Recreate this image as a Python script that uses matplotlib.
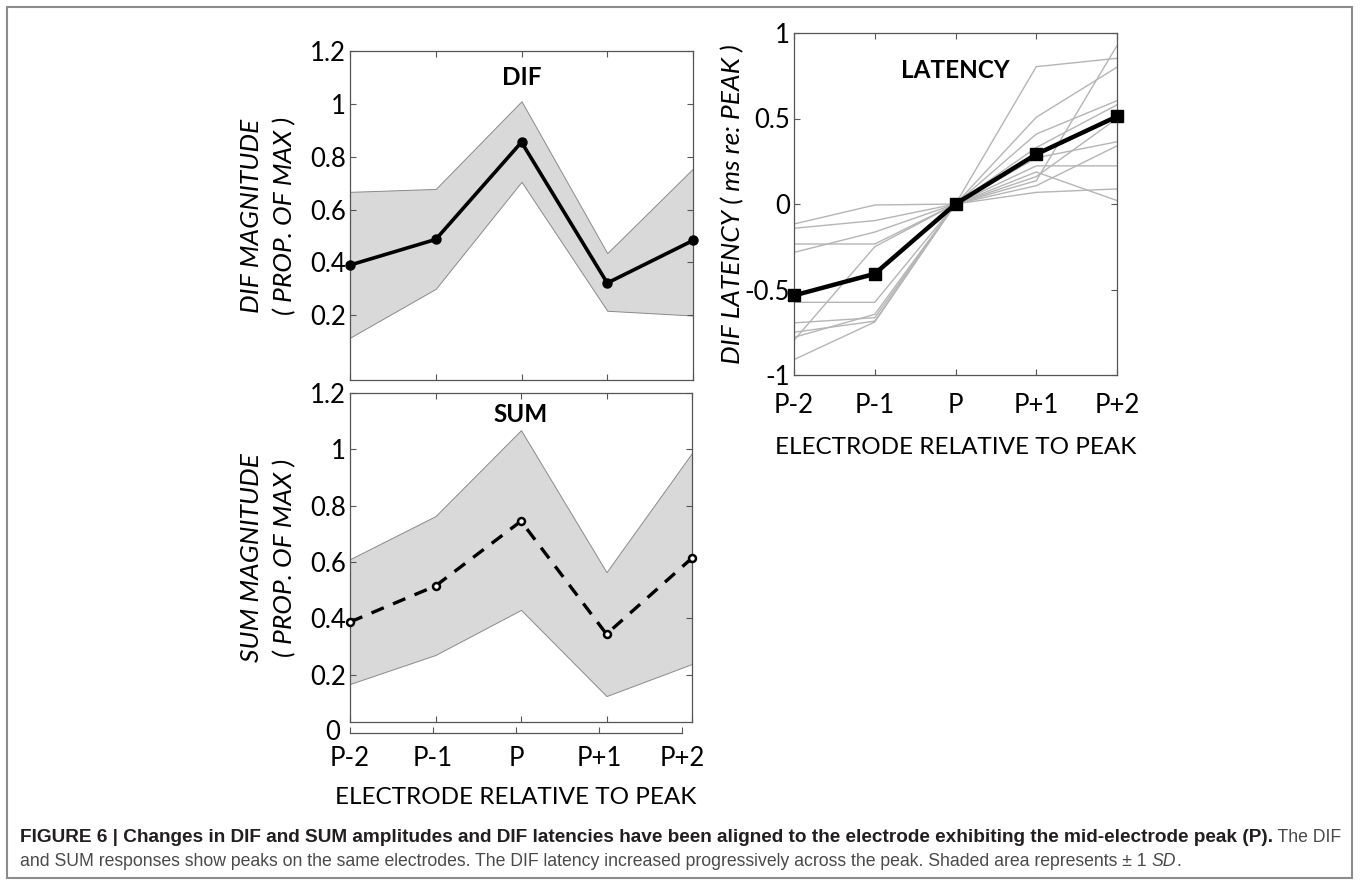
import matplotlib
matplotlib.use("Agg")
import matplotlib.pyplot as plt
from matplotlib.patches import Rectangle

plt.rcParams['font.family'] = ['Lato', 'DejaVu Sans']
plt.rcParams['axes.unicode_minus'] = False

# ---- data ----
electrodes = ['P-2', 'P-1', 'P', 'P+1', 'P+2']
xpos = [1, 2, 3, 4, 5]

dif_mean = [0.39, 0.487, 0.855, 0.322, 0.483]
dif_upper = [0.667, 0.678, 1.01, 0.435, 0.755]
dif_lower = [0.115, 0.30, 0.705, 0.217, 0.199]

sum_mean = [0.387, 0.515, 0.745, 0.344, 0.614]
sum_upper = [0.61, 0.763, 1.068, 0.564, 0.987]
sum_lower = [0.167, 0.27, 0.43, 0.124, 0.238]

lat_mean = [-0.535, -0.408, 0.0, 0.291, 0.512]
lat_1 = [-0.117, -0.006, 0.0, 0.803, 0.852]
lat_2 = [-0.142, -0.097, 0.0, 0.507, 0.80]
lat_3 = [-0.234, -0.234, 0.0, 0.409, 0.604]
lat_4 = [-0.283, -0.164, 0.0, 0.33, 0.58]
lat_5 = [-0.53, -0.42, 0.0, 0.27, 0.364]
lat_6 = [-0.575, -0.575, 0.0, 0.223, 0.223]
lat_7 = [-0.695, -0.665, 0.0, 0.187, 0.02]
lat_8 = [-0.75, -0.685, 0.0, 0.136, 0.926]
lat_9 = [-0.78, -0.645, 0.0, 0.107, 0.34]
lat_10 = [-0.797, -0.25, 0.0, 0.068, 0.088]
lat_11 = [-0.91, -0.69, 0.0, 0.16, 0.50]
lat_single = [lat_1, lat_2, lat_3, lat_4, lat_5, lat_6,
              lat_7, lat_8, lat_9, lat_10, lat_11]

mag_ticks = [0.2, 0.4, 0.6, 0.8, 1.0, 1.2]
mag_labels = ['0.2', '0.4', '0.6', '0.8', '1', '1.2']
lat_ticks = [-1, -0.5, 0, 0.5, 1]
lat_labels = ['-1', '-0.5', '0', '0.5', '1']

W, H = 1360, 891
TICK_FS = 18.5
LABEL_FS = 19
XLAB_FS = 17.5
TITLE_FS = 17.5
SPINE = '#555555'
SHADE = '#d9d9d9'


def px_axes(fig, x0, y0, x1, y1):
    # pixel box (top-left origin) -> figure fraction
    return fig.add_axes([x0 / W, 1 - y1 / H, (x1 - x0) / W, (y1 - y0) / H])


def style(ax):
    for s in ax.spines.values():
        s.set_color(SPINE)
        s.set_linewidth(0.9)
    ax.tick_params(direction='in', length=4, width=0.8, color=SPINE,
                   top=True, right=True, labelsize=TICK_FS, pad=3)
    ax.set_xlim(1, 5)
    ax.set_xticks(xpos)


fig = plt.figure(figsize=(W / 100, H / 100), dpi=100)

# ---- DIF ----
ax1 = px_axes(fig, 350, 51, 693, 380)
style(ax1)
ax1.fill_between(xpos, dif_lower, dif_upper, facecolor=SHADE,
                 edgecolor='#8a8a8a', linewidth=0.7)
ax1.plot(xpos, dif_mean, color='black', lw=2.6, marker='o', ms=6.5,
         clip_on=False, zorder=5)
ax1.set_ylim(-0.045, 1.2)
ax1.set_yticks(mag_ticks)
ax1.set_yticklabels(mag_labels)
ax1.set_xticklabels([])
ax1.set_ylabel('DIF MAGNITUDE\n( PROP. OF MAX )', fontsize=LABEL_FS,
               style='italic', labelpad=10, linespacing=1.5)
ax1.text(3, 1.1, 'DIF', ha='center', va='center', fontsize=TITLE_FS,
         fontweight='bold')

# ---- SUM ----
ax2 = px_axes(fig, 350, 393, 692, 722)
style(ax2)
ax2.fill_between(xpos, sum_lower, sum_upper, facecolor=SHADE,
                 edgecolor='#8a8a8a', linewidth=0.7)
ax2.plot(xpos, sum_mean, color='black', lw=2.4, ls=(0, (4, 3)),
         marker='o', ms=5, mfc='white', mec='black', mew=1.8,
         clip_on=False, zorder=5)
ax2.set_ylim(0.032, 1.2)
ax2.set_yticks(mag_ticks)
ax2.set_yticklabels(mag_labels)
ax2.set_xticklabels([])
ax2.set_ylabel('SUM MAGNITUDE\n( PROP. OF MAX )', fontsize=LABEL_FS,
               style='italic', labelpad=10, linespacing=1.5)
ax2.text(3, 1.125, 'SUM', ha='center', va='center', fontsize=TITLE_FS,
         fontweight='bold')

# detached x axis drawn at zero below the SUM box
ax2b = px_axes(fig, 350, 723, 682, 733)
ax2b.set_facecolor('none')
for k in ('top', 'left', 'right'):
    ax2b.spines[k].set_visible(False)
ax2b.spines['bottom'].set_color(SPINE)
ax2b.spines['bottom'].set_linewidth(0.9)
ax2b.set_xlim(1, 5)
ax2b.set_ylim(-0.5, 1)
ax2b.set_xticks(xpos)
ax2b.set_xticklabels(electrodes)
ax2b.set_yticks([0])
ax2b.set_yticklabels(['0'])
ax2b.tick_params(axis='x', direction='in', length=4, width=0.8,
                 color=SPINE, labelsize=TICK_FS, pad=9)
ax2b.tick_params(axis='y', length=0, labelsize=TICK_FS, pad=7)
ax2b.set_xlabel('ELECTRODE RELATIVE TO PEAK', fontsize=XLAB_FS, labelpad=12)

# ---- LATENCY ----
ax3 = px_axes(fig, 794, 33, 1117, 375)
style(ax3)
for trace in lat_single:
    ax3.plot(xpos, trace, color='#b5b5b5', lw=1.0, zorder=2)
ax3.plot(xpos, lat_mean, color='black', lw=3.2, marker='s', ms=8,
         clip_on=False, zorder=5)
ax3.set_ylim(-1, 1)
ax3.set_yticks(lat_ticks)
ax3.set_yticklabels(lat_labels)
ax3.set_xticklabels(electrodes)
ax3.tick_params(axis='x', pad=13)
ax3.set_ylabel('DIF LATENCY ( ms re: PEAK )', fontsize=LABEL_FS,
               style='italic', labelpad=0)
ax3.set_xlabel('ELECTRODE RELATIVE TO PEAK', fontsize=XLAB_FS, labelpad=14)
ax3.text(3, 0.78, 'LATENCY', ha='center', va='center', fontsize=TITLE_FS,
         fontweight='bold')

# ---- frame and caption ----
fig.patches.append(Rectangle((7 / W, 1 - 878 / H), 1345 / W, 871 / H,
                             transform=fig.transFigure, fill=False,
                             edgecolor='#8c8c8c', linewidth=1.5))

cap_font = ['Liberation Sans Narrow', 'Liberation Sans', 'DejaVu Sans']
bold_size = 13.7
reg_size = 12.7
fig.canvas.draw()
renderer = fig.canvas.get_renderer()

y1 = 1 - 838 / H
t = fig.text(20 / W, y1, 'FIGURE 6 | Changes in DIF and SUM amplitudes and DIF '
             'latencies have been aligned to the electrode exhibiting the '
             'mid-electrode peak (P).', family=cap_font, fontsize=bold_size,
             fontweight='bold', color='#231f20', va='center')
bb = t.get_window_extent(renderer)
fig.text(bb.x1 / W, y1, ' The DIF', family=cap_font, fontsize=reg_size,
         color='#4a4a4a', va='center')

y2 = 1 - 861 / H
t = fig.text(20 / W, y2, 'and SUM responses show peaks on the same electrodes. '
             'The DIF latency increased progressively across the peak. '
             'Shaded area represents \u00b1 1 ', family=cap_font,
             fontsize=reg_size, color='#4a4a4a', va='center')
bb = t.get_window_extent(renderer)
t = fig.text(bb.x1 / W, y2, 'SD', family=cap_font, fontsize=reg_size,
             style='italic', color='#4a4a4a', va='center')
bb = t.get_window_extent(renderer)
fig.text(bb.x1 / W, y2, '.', family=cap_font, fontsize=reg_size,
         color='#4a4a4a', va='center')

fig.savefig('out.png', dpi=100)
